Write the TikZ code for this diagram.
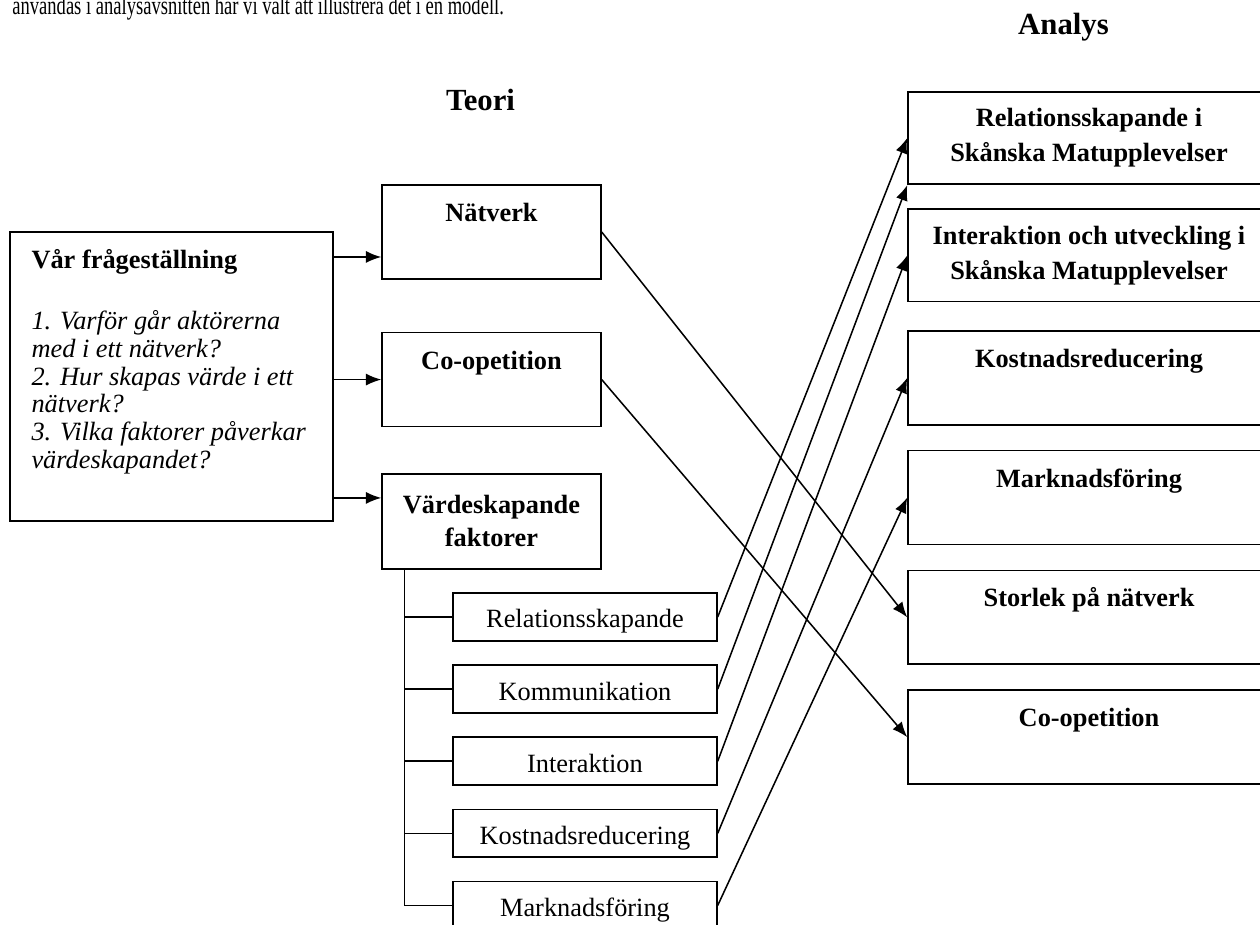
\documentclass[tikz,border=0pt]{standalone}
\usepackage{fontspec}
\setmainfont{Liberation Serif}
\usetikzlibrary{positioning}
\usetikzlibrary{arrows.meta}

\begin{document}
\begin{tikzpicture}[
    x=0.016cm, y=-0.016cm,
    node distance=0.385cm and 1cm,
    every node/.style={font=\fontsize{12}{12.6}\selectfont},
    ram/.style={draw,line width=0.8pt},
    teoribox/.style={ram,minimum width=3.5cm,inner ysep=0pt,text height=16.6pt,text depth=26.2pt,font=\fontsize{12}{15.5}\selectfont\bfseries},
    teoribox2/.style={ram,minimum width=3.5cm,minimum height=1.52cm,align=center,font=\fontsize{12}{15}\selectfont\bfseries},
    faktor/.style={ram,minimum width=4.22cm,inner ysep=0pt,text height=15.9pt,text depth=5.9pt},
    analysbox/.style={ram,minimum width=5.79cm,inner ysep=0pt,text height=16.6pt,text depth=26.2pt,font=\fontsize{12}{16}\selectfont\bfseries},
    analysbox2/.style={ram,minimum width=5.79cm,minimum height=1.48cm,align=center,font=\fontsize{12}{16}\selectfont\bfseries},
    rubrik/.style={font=\fontsize{14}{16}\selectfont\bfseries},
    pil/.style={line width=0.7pt,-{Latex[length=7pt,width=5.5pt]}},
    linje/.style={line width=0.7pt}
    ]

    \useasboundingbox (0,0) rectangle (1260,925);

    \node[anchor=base west,inner sep=0pt] (inledning) at (12,15) {\scalebox{0.704}[1]{användas i analysavsnitten har vi valt att illustrera det i en modell.}};

    \node[rubrik] (teori) at (480.5,100) {Teori};
    \node[rubrik] (analys) at (1063.5,27) {Analys};

    % frågeställning
    \node[ram,minimum width=5.17cm,minimum height=4.62cm] (fraga) at (171.5,376.5) {};
    \node[anchor=north west,inner sep=0pt,align=left] (fragatext) at ([xshift=0.352cm,yshift=-0.29cm]fraga.north west)
    {\textbf{Vår frågeställning}\\[15.2pt]
    \textit{1. Varför går aktörerna}\\
    \textit{med i ett nätverk?}\\
    \textit{2. Hur skapas värde i ett}\\
    \textit{nätverk?}\\
    \textit{3. Vilka faktorer påverkar}\\
    \textit{värdeskapandet?}};

    % teori
    \node[teoribox] (natverk) at (491.5,232) {Nätverk};
    \node[teoribox, below=0.83cm of natverk] (coop) {Co-opetition};
    \node[teoribox2, below=0.73cm of coop] (vard) {Värdeskapande\\faktorer};

    \node[faktor] (f1) at (585,617) {Relationsskapande};
    \node[faktor, below=0.36cm of f1] (f2) {Kommunikation};
    \node[faktor, below=0.36cm of f2] (f3) {Interaktion};
    \node[faktor, below=0.36cm of f3] (f4) {Kostnadsreducering};
    \node[faktor, below=0.36cm of f4] (f5) {Marknadsföring};

    % analys
    \node[analysbox2] (ana1) at (1089,138) {Relationsskapande i\\Skånska Matupplevelser};
    \node[analysbox2, below=0.37cm of ana1] (ana2) {Interaktion och utveckling i\\Skånska Matupplevelser};
    \node[analysbox, below=0.44cm of ana2] (ana3) {Kostnadsreducering};
    \node[analysbox, below=of ana3] (ana4) {Marknadsföring};
    \node[analysbox, below=of ana4] (ana5) {Storlek på nätverk};
    \node[analysbox, below=of ana5] (ana6) {Co-opetition};

    \coordinate (stam) at ([xshift=0.37cm]vard.south west);
    \draw[linje] (stam) |- (f5.west);
    \foreach \f in {f1,f2,f3,f4}
        \draw[linje] (stam |- \f.west) -- (\f.west);

    \draw[pil] ([yshift=-0.4cm]natverk.west -| fraga.east) -- ([yshift=-0.4cm]natverk.west);
    \draw[pil] (coop.west -| fraga.east) -- (coop.west);
    \draw[pil] ([yshift=0.376cm]vard.west -| fraga.east) -- ([yshift=0.376cm]vard.west);

    \path (f1.east) edge[pil] (ana1.west)
    (f2.east) edge[pil] (ana1.south west)
    (f3.east) edge[pil] (ana2.west)
    (f4.east) edge[pil] (ana3.west)
    (f5.east) edge[pil] (ana4.west)
    (natverk.east) edge[pil] (ana5.west)
    (coop.east) edge[pil] (ana6.west)
    ;

\end{tikzpicture}
\end{document}
